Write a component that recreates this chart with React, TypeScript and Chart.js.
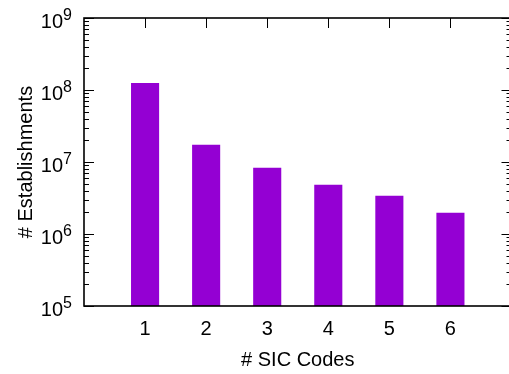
import { useEffect, useRef } from "react";
import { Chart, registerables } from "chart.js";

Chart.register(...registerables);

// Establishment counts per number of SIC codes (log scale)
const sicCodes = [1, 2, 3, 4, 5, 6];
const establishments = [1.25e8, 1.74e7, 8.3e6, 4.84e6, 3.4e6, 1.98e6];
const yDecades = [5, 6, 7, 8, 9];
const xTitle = "# SIC Codes";
const yTitle = "# Establishments";

const FONT = '"Liberation Sans", Arial, Helvetica, sans-serif';
const BAR_COLOR = "#9400D3";

// Gnuplot-style frame: mirrored ticks, border and superscript tick labels
const gnuplotFrame = {
  id: "gnuplotFrame",
  beforeDatasetsDraw(chart: any) {
    const { ctx, chartArea: a, scales } = chart;
    const x = scales.x;
    const y = scales.y;
    ctx.save();
    ctx.strokeStyle = "#000";
    ctx.lineWidth = 1;
    ctx.beginPath();
    const last = yDecades[yDecades.length - 1];
    for (const e of yDecades) {
      const py = Math.round(y.getPixelForValue(Math.pow(10, e))) + 0.5;
      ctx.moveTo(a.left, py);
      ctx.lineTo(a.left + 10, py);
      ctx.moveTo(a.right, py);
      ctx.lineTo(a.right - 10, py);
      if (e < last) {
        for (let k = 2; k <= 9; k++) {
          const pm = Math.round(y.getPixelForValue(k * Math.pow(10, e))) + 0.5;
          ctx.moveTo(a.left, pm);
          ctx.lineTo(a.left + 5, pm);
          ctx.moveTo(a.right, pm);
          ctx.lineTo(a.right - 5, pm);
        }
      }
    }
    for (const c of sicCodes) {
      const px = Math.round(x.getPixelForValue(c)) + 0.5;
      ctx.moveTo(px, a.top);
      ctx.lineTo(px, a.top + 10);
      ctx.moveTo(px, a.bottom);
      ctx.lineTo(px, a.bottom - 10);
    }
    ctx.stroke();
    ctx.restore();
  },
  afterDatasetsDraw(chart: any) {
    const { ctx, chartArea: a, scales } = chart;
    const x = scales.x;
    const y = scales.y;
    ctx.save();
    ctx.strokeStyle = "#000";
    ctx.lineWidth = 1.6;
    ctx.strokeRect(a.left, a.top, a.right - a.left, a.bottom - a.top);

    ctx.fillStyle = "#000";
    ctx.textBaseline = "alphabetic";

    // y tick labels: 10^n
    for (const e of yDecades) {
      const py = y.getPixelForValue(Math.pow(10, e));
      const exp = String(e);
      ctx.font = `16px ${FONT}`;
      const w2 = ctx.measureText(exp).width;
      ctx.font = `20px ${FONT}`;
      const w1 = ctx.measureText("10").width;
      const right = a.left - 12;
      ctx.textAlign = "left";
      ctx.fillText("10", right - w2 - w1, py + 10);
      ctx.font = `16px ${FONT}`;
      ctx.fillText(exp, right - w2, py + 2);
    }

    // x tick labels
    ctx.font = `20px ${FONT}`;
    ctx.textAlign = "center";
    for (const c of sicCodes) {
      ctx.fillText(String(c), x.getPixelForValue(c), a.bottom + 29);
    }

    // axis titles
    ctx.fillText(xTitle, (a.left + a.right) / 2, a.bottom + 60);
    ctx.translate(31.5, (a.top + a.bottom) / 2);
    ctx.rotate(-Math.PI / 2);
    ctx.fillText(yTitle, 0, 0);
    ctx.restore();
  },
};

export default function App() {
  const ref = useRef<HTMLCanvasElement>(null);

  useEffect(() => {
    if (!ref.current) return;
    const chart = new Chart(ref.current, {
      type: "bar",
      data: {
        datasets: [
          {
            data: sicCodes.map((c, i) => ({ x: c, y: establishments[i] })),
            backgroundColor: BAR_COLOR,
            borderWidth: 0,
            categoryPercentage: 1,
            barPercentage: 0.46,
          },
        ],
      },
      options: {
        responsive: false,
        animation: false,
        devicePixelRatio: 1,
        layout: { padding: { left: 84, top: 18, right: 1.5, bottom: 68 } },
        plugins: {
          legend: { display: false },
          tooltip: { enabled: false },
          title: { display: false },
        },
        scales: {
          x: {
            type: "linear",
            display: false,
            offset: false,
            grid: { offset: false },
            min: 0,
            max: 7,
            ticks: { stepSize: 1 },
          },
          y: {
            type: "logarithmic",
            display: false,
            min: 1e5,
            max: 1e9,
          },
        },
      },
      plugins: [gnuplotFrame],
    });
    return () => chart.destroy();
  }, []);

  return (
    <div
      style={{
        position: "fixed",
        left: 0,
        top: 0,
        width: 509,
        height: 374,
        overflow: "hidden",
        background: "#fff",
      }}
    >
      <canvas ref={ref} width={513} height={374} style={{ display: "block" }} />
    </div>
  );
}
